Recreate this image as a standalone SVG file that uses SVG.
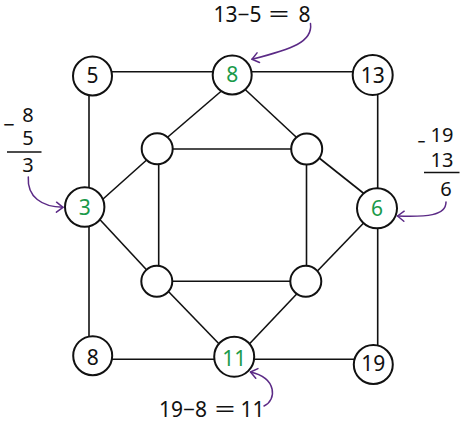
<svg xmlns="http://www.w3.org/2000/svg" width="462" height="422" viewBox="0 0 462 422">
  <style>
    .edge { stroke: #111; stroke-width: 1.6; fill: none; }
    .node circle { fill: #fff; stroke: #111; stroke-width: 2; }
    .lbl { font-family: "Noto Sans", "Open Sans", sans-serif; font-size: 21px; text-anchor: middle; fill: #111; }
    .green { fill: #1a9a4a; }
    .note { font-family: "Noto Sans", "Open Sans", sans-serif; font-size: 21px; fill: #111; }
    .frac { font-family: "Noto Sans", "Open Sans", sans-serif; font-size: 20px; fill: #111; text-anchor: middle; }
    .bar { stroke: #111; stroke-width: 1.6; }
    .arrow { stroke: #5b2a86; stroke-width: 1.5; fill: none; stroke-linecap: round; marker-end: url(#head); }
  </style>
  <defs>
    <marker id="head" markerUnits="userSpaceOnUse" viewBox="-8 -7 10 14" refX="0" refY="0" markerWidth="10" markerHeight="14" orient="auto">
      <path d="M-6.5,-5 L0,0 L-6.5,5" fill="none" stroke="#5b2a86" stroke-width="1.5" stroke-linecap="round" stroke-linejoin="round"/>
    </marker>
  </defs>
  <rect width="462" height="422" fill="#fff"/>

  <g id="connectors">
    <line class="edge" x1="92" y1="71.7" x2="373" y2="71.7"/>
    <line class="edge" x1="89" y1="76" x2="89" y2="356"/>
    <line class="edge" x1="377.7" y1="75" x2="377.7" y2="364"/>
    <line class="edge" x1="92" y1="359.3" x2="373" y2="359.3"/>
    <line class="edge" x1="157" y1="149" x2="307" y2="149"/>
    <line class="edge" x1="157" y1="281.3" x2="306" y2="281.3"/>
    <line class="edge" x1="158.7" y1="149" x2="158.7" y2="281"/>
    <line class="edge" x1="306.5" y1="149" x2="306.5" y2="281"/>
    <line class="edge" x1="222" y1="90.5" x2="162" y2="142"/>
    <line class="edge" x1="243" y1="87.5" x2="302" y2="142.5"/>
    <line class="edge" x1="98" y1="203.5" x2="150" y2="157"/>
    <line class="edge" x1="316" y1="155.5" x2="367" y2="196"/>
    <line class="edge" x1="97.5" y1="217" x2="150" y2="273.5"/>
    <line class="edge" x1="367" y1="219.5" x2="315" y2="273.5"/>
    <line class="edge" x1="166.5" y1="289.5" x2="223.5" y2="348.5"/>
    <line class="edge" x1="300" y1="290.5" x2="246" y2="347.5"/>
  </g>

  <g id="n5" class="node"><circle cx="92.5" cy="76" r="19.5"/><text class="lbl" x="92.5" y="83">5</text></g>
  <g id="n8top" class="node"><circle cx="232.2" cy="75" r="19.5"/><text class="lbl green" x="232.2" y="82.3">8</text></g>
  <g id="n13" class="node"><circle cx="372.7" cy="75" r="20"/><text class="lbl" x="372.7" y="83.3">13</text></g>
  <g id="n3" class="node"><circle cx="84.7" cy="207" r="19.7"/><text class="lbl green" x="84.7" y="215">3</text></g>
  <g id="n6" class="node"><circle cx="377" cy="208.3" r="20"/><text class="lbl green" x="377" y="216">6</text></g>
  <g id="n8bot" class="node"><circle cx="92.7" cy="355.7" r="19.5"/><text class="lbl" x="92.7" y="365">8</text></g>
  <g id="n11" class="node"><circle cx="234.2" cy="356.7" r="20"/><text class="lbl green" x="234.2" y="365.7">11</text></g>
  <g id="n19" class="node"><circle cx="373.3" cy="364.5" r="19.5"/><text class="lbl" x="373.3" y="370.5">19</text></g>
  <g id="iTL" class="node"><circle cx="157.2" cy="148.8" r="15.5"/></g>
  <g id="iTR" class="node"><circle cx="306.7" cy="149" r="15.5"/></g>
  <g id="iBL" class="node"><circle cx="156.8" cy="281.3" r="15.5"/></g>
  <g id="iBR" class="node"><circle cx="305.8" cy="281.3" r="15.5"/></g>

  <g id="note-top">
    <text class="note" x="213.5" y="22">13−5</text>
    <text class="note" x="268.5" y="22" textLength="21" lengthAdjust="spacingAndGlyphs">=</text>
    <text class="note" x="298.5" y="22">8</text>
  </g>
  <g id="note-bottom">
    <text class="note" x="159" y="416.5">19−8</text>
    <text class="note" x="214.5" y="416.5" textLength="21" lengthAdjust="spacingAndGlyphs">=</text>
    <text class="note" x="240.5" y="416.5">11</text>
  </g>
  <g id="note-left">
    <text class="frac" x="9" y="131.5">−</text>
    <text class="frac" x="28" y="122">8</text>
    <text class="frac" x="28" y="145">5</text>
    <line class="bar" x1="7" y1="152" x2="41.5" y2="152"/>
    <text class="frac" x="28" y="172">3</text>
  </g>
  <g id="note-right">
    <text class="frac" x="421.5" y="148.5" textLength="8" lengthAdjust="spacingAndGlyphs">−</text>
    <text class="frac" x="442" y="142">19</text>
    <text class="frac" x="442" y="166.5">13</text>
    <line class="bar" x1="424" y1="172.5" x2="459.5" y2="172.5"/>
    <text class="frac" x="446" y="195.5">6</text>
  </g>

  <g id="arrows">
    <path class="arrow" d="M310.5,23.5 C313,42 292,49 252,59.3"/>
    <path class="arrow" d="M28.3,177 C27,197 42,207 63,207.3"/>
    <path class="arrow" d="M446,202 C446,216 426,217 397.5,216"/>
    <path class="arrow" d="M264,406 C277,400 277,378 250.5,372"/>
  </g>
</svg>
